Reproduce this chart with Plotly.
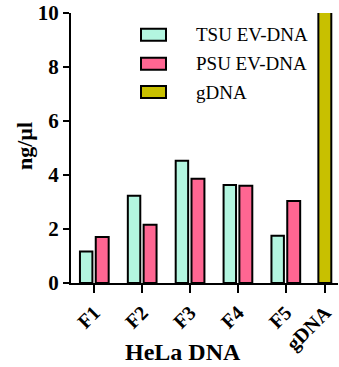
import plotly.graph_objects as go

categories = ["F1", "F2", "F3", "F4", "F5"]
gdna_category = ["gDNA"]
tsu_values = [1.17, 3.23, 4.53, 3.63, 1.75]
psu_values = [1.70, 2.16, 3.86, 3.60, 3.04]
gdna_values = [12.0]
series_names = ["TSU EV-DNA", "PSU EV-DNA", "gDNA"]
y_tick_vals = [0, 2, 4, 6, 8, 10]
y_tick_text = ["0", "2", "4", "6", "8", "10"]

colors = ["#B3F6E0", "#FF6692", "#C8C000"]
FONT = "Liberation Serif"
W, H = 339, 367
ML, MR, MT, MB = 71, 1, 13, 84
PW, PH = W - ML - MR, H - MT - MB


def px_x(px):
    return (px - ML) / PW


def px_y(py):
    return (H - MB - py) / PH


fig = go.Figure()
fig.add_trace(go.Bar(x=categories, y=tsu_values, name=series_names[0],
                     marker=dict(color=colors[0], line=dict(color="black", width=2)),
                     offset=-0.30, width=0.26, showlegend=False))
fig.add_trace(go.Bar(x=categories, y=psu_values, name=series_names[1],
                     marker=dict(color=colors[1], line=dict(color="black", width=2)),
                     offset=0.03, width=0.27, showlegend=False))
fig.add_trace(go.Bar(x=gdna_category, y=gdna_values, name=series_names[2],
                     marker=dict(color=colors[2], line=dict(color="black", width=2)),
                     offset=-0.32, width=0.27, showlegend=False))

# custom legend (swatches + text)
row_y = [34.7, 63.7, 92.0]
for name, col, ry in zip(series_names, colors, row_y):
    fig.add_shape(type="rect", xref="paper", yref="paper",
                  x0=px_x(141), x1=px_x(166), y0=px_y(ry + 6), y1=px_y(ry - 6),
                  fillcolor=col, line=dict(color="black", width=2))
    fig.add_annotation(xref="paper", yref="paper", x=px_x(194), y=px_y(ry),
                       xanchor="left", yanchor="middle", showarrow=False,
                       text=name, font=dict(family=FONT, size=19, color="black"))

fig.add_annotation(xref="paper", yref="paper", x=px_x(183), y=px_y(352),
                   xanchor="center", yanchor="middle", showarrow=False,
                   text="<b>HeLa DNA</b>", font=dict(family=FONT, size=24, color="black"))
fig.add_annotation(xref="paper", yref="paper", x=px_x(24), y=px_y(146),
                   xanchor="center", yanchor="middle", showarrow=False, textangle=-90,
                   text="<b>ng/µl</b>", font=dict(family=FONT, size=22, color="black"))

fig.update_layout(
    width=W, height=H,
    margin=dict(l=ML, r=MR, t=MT, b=MB),
    paper_bgcolor="white", plot_bgcolor="white",
    barmode="overlay",
    showlegend=False,
    font=dict(family=FONT, color="black"),
)
all_categories = categories + gdna_category
fig.update_xaxes(
    type="category", categoryorder="array", categoryarray=all_categories,
    range=[-0.487, 5.09], showline=True, linecolor="black", linewidth=2,
    ticks="outside", ticklen=8, tickwidth=2, tickcolor="black",
    tickmode="array", tickvals=[0, 1, 2, 3, 4, 4.82], ticktext=all_categories,
    tickangle=-45, tickfont=dict(family=FONT, size=20, color="black", weight="bold"),
    showgrid=False, zeroline=False, automargin=False,
)
fig.update_yaxes(
    range=[0, 10], showline=True, linecolor="black", linewidth=2,
    ticks="outside", ticklen=6, tickwidth=2, tickcolor="black",
    tickvals=y_tick_vals, ticktext=y_tick_text,
    tickfont=dict(family=FONT, size=21, color="black", weight="bold"),
    showgrid=False, zeroline=False, automargin=False,
)

fig.write_html("out.html", config={"displayModeBar": False},
               post_script="document.body.style.margin='0px';document.body.style.overflow='hidden';")
